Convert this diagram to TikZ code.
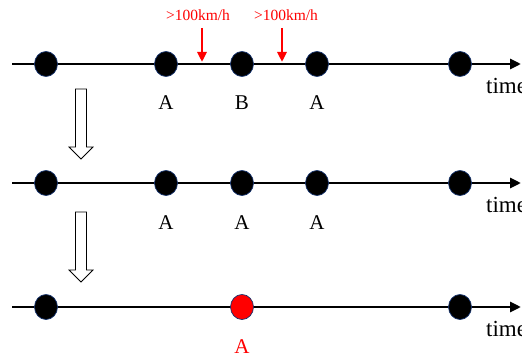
\documentclass[tikz,border=0pt]{standalone}
\usepackage{fontspec}
\setmainfont{Liberation Serif}
\usetikzlibrary{arrows.meta,shapes.geometric}
\definecolor{dotline}{RGB}{20,50,110}
\tikzset{
  x=1pt,y=-1pt,
  axis/.style={line width=2.8pt,-{Triangle[length=11pt,width=10pt]}},
  dot/.style={ellipse,fill=black,draw=dotline,line width=0.7pt,minimum width=23pt,minimum height=25pt,inner sep=0pt},
  reddot/.style={dot,fill=red},
  lab/.style={font=\fontsize{21}{21}\selectfont,inner sep=0pt,anchor=base},
  timelab/.style={font=\fontsize{23}{23}\selectfont,inner sep=0pt,anchor=base west},
  speed/.style={font=\fontsize{15.5}{15.5}\selectfont,text=red,inner sep=0pt,anchor=base},
  redarrow/.style={draw=red,line width=2.6pt,-{Triangle[length=10pt,width=9pt]}},
  hollow/.style={draw=black,fill=white,line width=0.8pt,line join=miter},
}
\newcommand{\hollowarrow}[3]{% x, top y, tip y
  \draw[hollow] (#1-5.5,#2) -- (#1+5.5,#2) -- (#1+5.5,#3-12) -- (#1+12,#3-12) -- (#1,#3)
    -- (#1-12,#3-12) -- (#1-5.5,#3-12) -- cycle;}
\begin{document}
\begin{tikzpicture}
\clip (0,0) rectangle (522,361);
\fill[white] (0,0) rectangle (522,361);
% row 1
\coordinate (s1) at (12,64);
\coordinate (e1) at (521,64);
\draw[axis] (s1) -- (e1);
\node[dot] (a1) at (46,64) {};
\node[dot] (b1) at (166,64) {};
\node[dot] (c1) at (242,64) {};
\node[dot] (d1) at (317,64) {};
\node[dot] (f1) at (460,64) {};
\node[lab] (lb1) at (166,109) {A};
\node[lab] (lc1) at (242,109) {B};
\node[lab] (ld1) at (317,109) {A};
\node[timelab] (t1) at (486,93) {time};
\node[speed] (sp1) at (198,21) {>100km/h};
\node[speed] (sp2) at (286,21) {>100km/h};
\coordinate (r1) at (202,28);
\coordinate (r1e) at (202,62);
\coordinate (r2) at (282,28);
\coordinate (r2e) at (282,62);
\draw[redarrow] (r1) -- (r1e);
\draw[redarrow] (r2) -- (r2e);
% hollow arrow 1
\hollowarrow{81}{89}{159}
% row 2
\coordinate (s2) at (12,183);
\coordinate (e2) at (521,183);
\draw[axis] (s2) -- (e2);
\node[dot] (a2) at (46,183) {};
\node[dot] (b2) at (166,183) {};
\node[dot] (c2) at (242,183) {};
\node[dot] (d2) at (317,183) {};
\node[dot] (f2) at (460,183) {};
\node[lab] (lb2) at (166,229) {A};
\node[lab] (lc2) at (242,229) {A};
\node[lab] (ld2) at (317,229) {A};
\node[timelab] (t2) at (486,212) {time};
% hollow arrow 2
\hollowarrow{81}{212}{282}
% row 3
\coordinate (s3) at (12,307);
\coordinate (e3) at (521,307);
\draw[axis] (s3) -- (e3);
\node[dot] (a3) at (46,307) {};
\node[reddot] (c3) at (242,307) {};
\node[dot] (f3) at (460,307) {};
\node[lab,text=red] (lc3) at (242,353) {A};
\node[timelab] (t3) at (486,336) {time};
\end{tikzpicture}
\end{document}
